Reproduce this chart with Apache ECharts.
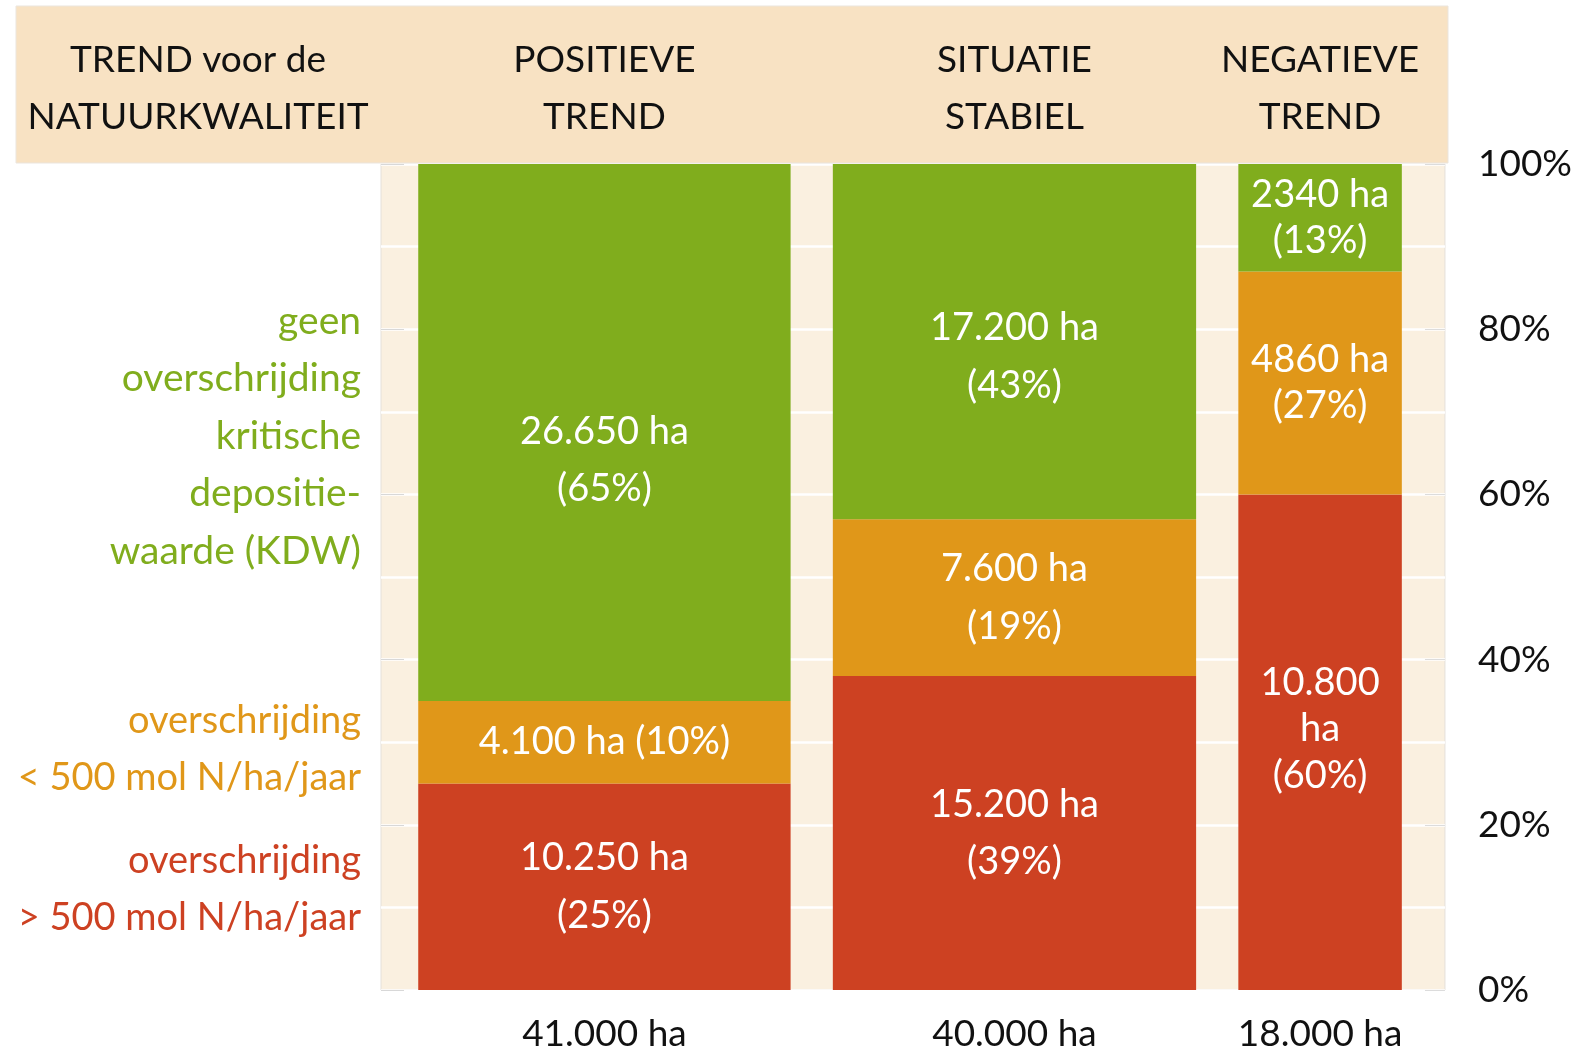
<!DOCTYPE html>
<html>
<head>
<meta charset="utf-8">
<script src="https://cdn.jsdelivr.net/npm/echarts@6/dist/echarts.min.js"></script>
<style>
html,body{margin:0;padding:0;background:#fff;}
#chart{width:1575px;height:1054px;}
</style>
</head>
<body>
<div id="chart"></div>
<script>
// ---- data ----
const categories = ['POSITIEVE\nTREND', 'SITUATIE\nSTABIEL', 'NEGATIEVE\nTREND'];
const totalHa = [41000, 40000, 18000];
const totalLabels = ['41.000 ha', '40.000 ha', '18.000 ha'];
const redHa = [10250, 15200, 10800];
const orangeHa = [4100, 7600, 4860];
const greenHa = [26650, 17200, 2340];
const redLabels = ['10.250 ha\n(25%)', '15.200 ha\n(39%)', '10.800\nha\n(60%)'];
const orangeLabels = ['4.100 ha (10%)', '7.600 ha\n(19%)', '4860 ha\n(27%)'];
const greenLabels = ['26.650 ha\n(65%)', '17.200 ha\n(43%)', '2340 ha\n(13%)'];
const legendGreen = 'geen\noverschrijding\nkritische\ndepositie-\nwaarde (KDW)';
const legendOrange = 'overschrijding\n< 500 mol N/ha/jaar';
const legendRed = 'overschrijding\n> 500 mol N/ha/jaar';
const headerTitle = 'TREND voor de\nNATUURKWALITEIT';

// ---- style / layout ----
const GREEN = '#80ad1d', ORANGE = '#e09719', RED = '#cd4122';
const FONT = 'Lato';
const leftPad = 4100, gapHa = 4650, rightPad = 4750;
// vertical label nudges in px, [segment kind][category] (style only)
const labelNudge = [[0, 0, -13], [0, 0, 0], [28, 15, 0]];

// build x extents
const xStart = [];
let acc = leftPad;
totalHa.forEach((t) => { xStart.push(acc); acc += t + gapHa; });
const xMax = acc - gapHa + rightPad;

// segments: [x0, x1, y0, y1, kind, catIdx]
const colors = [RED, ORANGE, GREEN];
const segLabels = [redLabels, orangeLabels, greenLabels];
const segHa = [redHa, orangeHa, greenHa];
const segData = [];
totalHa.forEach((t, i) => {
  let base = 0;
  for (let k = 0; k < 3; k++) {
    const h = segHa[k][i] / t * 100;
    segData.push([xStart[i], xStart[i] + t, base, base + h, k, i]);
    base += h;
  }
});
const catData = totalHa.map((t, i) => [xStart[i], xStart[i] + t, i]);

const chart = echarts.init(document.getElementById('chart'));
chart.setOption({
  animation: false,
  graphic: [
    { type: 'rect', shape: { x: 16, y: 6, width: 1432, height: 157 },
      style: { fill: '#f8e2c3', stroke: '#ebe5dd', lineWidth: 1 }, z: 100 },
    { type: 'text', x: 198, y: 89, z: 101,
      style: { text: headerTitle, fill: '#111', font: '37px ' + FONT, lineHeight: 57, align: 'center', verticalAlign: 'middle' } },
    { type: 'text', x: 361, y: 436,
      style: { text: legendGreen, fill: GREEN, font: '39px ' + FONT, lineHeight: 57.5, align: 'right', verticalAlign: 'middle' } },
    { type: 'text', x: 361, y: 749,
      style: { text: legendOrange, fill: ORANGE, font: '38px ' + FONT, lineHeight: 57.5, align: 'right', verticalAlign: 'middle' } },
    { type: 'text', x: 361, y: 889,
      style: { text: legendRed, fill: RED, font: '38px ' + FONT, lineHeight: 57.5, align: 'right', verticalAlign: 'middle' } }
  ],
  grid: { left: 381, right: 128, top: 164, bottom: 64, show: true,
          backgroundColor: '#faf0e0', borderColor: '#e4e0da', borderWidth: 1 },
  xAxis: { type: 'value', min: 0, max: xMax, show: false },
  yAxis: [
    { type: 'value', min: 0, max: 100, interval: 20, position: 'right',
      axisLine: { show: false },
      axisTick: { show: true, length: 23, lineStyle: { color: '#d8d8d8', width: 1 } },
      axisLabel: { formatter: '{value}%', color: '#111', fontSize: 37, fontFamily: FONT, margin: 33,
                   padding: [0, 0, 9, 0] },
      splitLine: { show: false } },
    { type: 'value', min: 0, max: 100, interval: 10, position: 'right',
      axisLine: { show: false }, axisTick: { show: false }, axisLabel: { show: false },
      splitLine: { show: true, lineStyle: { color: '#ffffff', width: 2.5 } } },
    { type: 'value', min: 0, max: 100, interval: 20, position: 'right',
      axisLine: { show: false }, axisLabel: { show: false }, splitLine: { show: false },
      axisTick: { show: true, inside: true, length: 20, lineStyle: { color: '#dcdcdc', width: 1 } } }
  ],
  series: [
    {
      type: 'custom', clip: false, z: 5,
      data: segData,
      renderItem: function (params, api) {
        const p0 = api.coord([api.value(0), api.value(2)]);
        const p1 = api.coord([api.value(1), api.value(3)]);
        const k = api.value(4), i = api.value(5);
        const lbl = segLabels[k][i];
        const lh = (i === 2) ? 46.5 : 57.5;
        return {
          type: 'group',
          children: [
            { type: 'rect', shape: { x: p0[0], y: p1[1], width: p1[0] - p0[0], height: p0[1] - p1[1] },
              style: { fill: colors[k] } },
            { type: 'text', z2: 10,
              style: { text: lbl, x: (p0[0] + p1[0]) / 2, y: (p0[1] + p1[1]) / 2 + labelNudge[k][i],
                       fill: '#ffffff', font: '38px ' + FONT, lineHeight: lh,
                       align: 'center', verticalAlign: 'middle' } }
          ]
        };
      }
    },
    {
      type: 'custom', clip: false, z: 200,
      data: catData,
      renderItem: function (params, api) {
        const top = api.coord([api.value(0), 100]);
        const bot = api.coord([api.value(1), 0]);
        const cx = (top[0] + bot[0]) / 2;
        const i = api.value(2);
        return {
          type: 'group',
          children: [
            { type: 'text',
              style: { text: categories[i], x: cx, y: top[1] - 75, fill: '#111', font: '37px ' + FONT,
                       lineHeight: 57, align: 'center', verticalAlign: 'middle' } },
            { type: 'text',
              style: { text: totalLabels[i], x: cx, y: bot[1] + 44, fill: '#111', font: '37px ' + FONT,
                       align: 'center', verticalAlign: 'middle' } }
          ]
        };
      }
    }
  ]
});
</script>
</body>
</html>
